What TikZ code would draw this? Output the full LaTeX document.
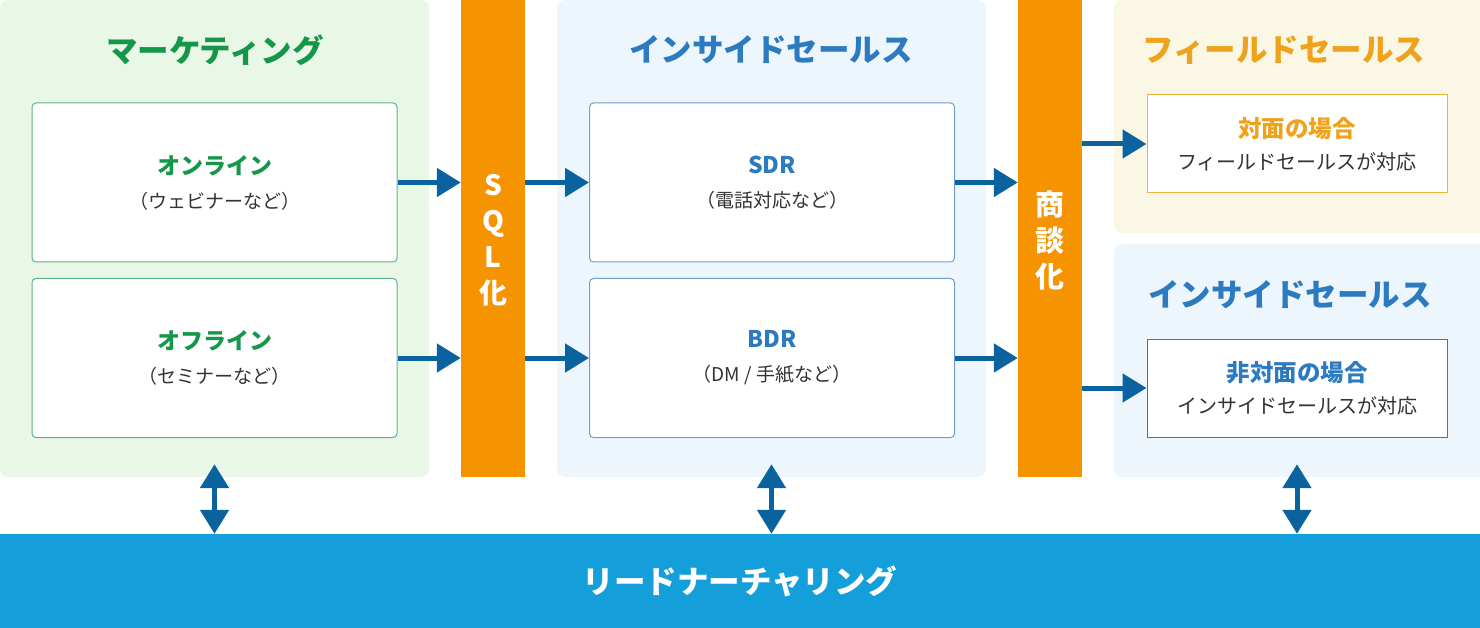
\documentclass[tikz,border=0pt]{standalone}
\usepackage{fontspec}
\setmainfont{Noto Sans CJK JP}
\usetikzlibrary{arrows.meta}
\definecolor{mkfill}{HTML}{E9F7E7}
\definecolor{mkgreen}{HTML}{15974A}
\definecolor{mkline}{HTML}{5BB67E}
\definecolor{isfill}{HTML}{EEF6FD}
\definecolor{isblue}{HTML}{2C7BC0}
\definecolor{isline}{HTML}{6F9FCF}
\definecolor{fsfill}{HTML}{FAF7E4}
\definecolor{fsorange}{HTML}{EFA21B}
\definecolor{fsline}{HTML}{E9B43A}
\definecolor{barorange}{HTML}{F69300}
\definecolor{arrblue}{HTML}{0A629F}
\definecolor{leadblue}{HTML}{159FDA}
\definecolor{txtgray}{HTML}{333333}
\tikzset{
  panel/.style={rectangle, rounded corners=8pt, inner sep=0pt},
  bar/.style={rectangle, fill=barorange, inner sep=0pt, text=white, align=center,
    font=\bfseries\fontsize{28}{36}\selectfont},
  ibox/.style={rectangle, rounded corners=4pt, fill=white, line width=1pt, inner sep=0pt,
    minimum width=365pt, minimum height=159pt, align=center, text=txtgray,
    font=\fontsize{19}{34}\selectfont},
  fbox/.style={rectangle, fill=white, line width=1pt, inner sep=0pt,
    minimum width=300pt, minimum height=98pt, align=center, text=txtgray,
    font=\fontsize{20}{32}\selectfont},
  ptitle/.style={inner sep=0pt, font=\bfseries\fontsize{31.5}{36}\selectfont},
  arr/.style={line width=5pt, draw=arrblue, -{Triangle[length=24pt 0 0, width=28pt 0 0]}},
  darr/.style={line width=5pt, draw=arrblue,
    {Triangle[length=24pt 0 0, width=28pt 0 0]}-{Triangle[length=24pt 0 0, width=28pt 0 0]}},
}
\begin{document}
\begin{tikzpicture}[x=1pt,y=-1pt]
\useasboundingbox (0,0) rectangle (1480,628);
% panels
\node[panel, fill=mkfill, minimum width=429pt, minimum height=477pt] (mk) at (214.5,238.5) {};
\node[panel, fill=isfill, minimum width=429pt, minimum height=477pt] (is) at (771.5,238.5) {};
\node[panel, fill=fsfill, minimum width=382pt, minimum height=233pt] (fs) at (1305,116.5) {};
\node[panel, fill=isfill, minimum width=382pt, minimum height=233pt] (is2) at (1305,360.5) {};
% bars
\node[bar, minimum width=64pt, minimum height=477pt] (sql) at (493,238.5) {};
\node[bar, inner sep=0pt] (sqlt) at (493,240) {S\\Q\\L\\化};
\node[bar, minimum width=64pt, minimum height=477pt] (deal) at (1050,238.5) {};
\node[bar, inner sep=0pt, font=\bfseries\fontsize{29}{36}\selectfont] (dealt) at (1050,240) {商\\談\\化};
\node[rectangle, fill=leadblue, inner sep=0pt, minimum width=1480pt, minimum height=94pt,
  text=white, font=\bfseries\fontsize{31.5}{36}\selectfont] (lead) at (740,581) {リードナーチャリング};
% titles
\node[ptitle, text=mkgreen] (t1) at (215,50) {マーケティング};
\node[ptitle, text=isblue] (t2) at (771,50) {インサイドセールス};
\node[ptitle, text=fsorange] (t3) at (1284,50) {フィールドセールス};
\node[ptitle, text=isblue] (t4) at (1290,295) {インサイドセールス};
% inner boxes
\node[ibox, draw=mkline] (on) at (214.5,182.5) {{\color{mkgreen}\bfseries\fontsize{23}{34}\selectfont オンライン}\\（ウェビナーなど）};
\node[ibox, draw=mkline] (off) at (214.5,358) {{\color{mkgreen}\bfseries\fontsize{23}{34}\selectfont オフライン}\\（セミナーなど）};
\node[ibox, draw=isline] (sdr) at (772,182.5) {{\color{isblue}\bfseries\fontsize{23}{34}\selectfont SDR}\\（電話対応など）};
\node[ibox, draw=isline] (bdr) at (772,358) {{\color{isblue}\bfseries\fontsize{23}{34}\selectfont BDR}\\（DM / 手紙など）};
\node[fbox, draw=fsline] (face) at (1297,144) {{\color{fsorange}\bfseries\fontsize{23.5}{32}\selectfont 対面の場合}\\フィールドセールスが対応};
\node[fbox, draw=isblue] (nonface) at (1297,388) {{\color{isblue}\bfseries\fontsize{23.5}{32}\selectfont 非対面の場合}\\インサイドセールスが対応};
% arrows
\draw[arr] (on.east) -- (sql.west |- on.east);
\draw[arr] (off.east) -- (sql.west |- off.east);
\draw[arr] (sql.east |- sdr.west) -- (sdr.west);
\draw[arr] (sql.east |- bdr.west) -- (bdr.west);
\draw[arr] (sdr.east) -- (deal.west |- sdr.east);
\draw[arr] (bdr.east) -- (deal.west |- bdr.east);
\draw[arr] (deal.east |- face.west) -- (face.west);
\draw[arr] (deal.east |- nonface.west) -- (nonface.west);
% double arrows
\draw[darr] ([yshift=13pt]mk.south) -- (mk.south |- lead.north);
\draw[darr] ([yshift=13pt]is.south) -- (is.south |- lead.north);
\draw[darr] ([yshift=13pt]is2.south -| nonface.south) -- (nonface.south |- lead.north);
\end{tikzpicture}
\end{document}
